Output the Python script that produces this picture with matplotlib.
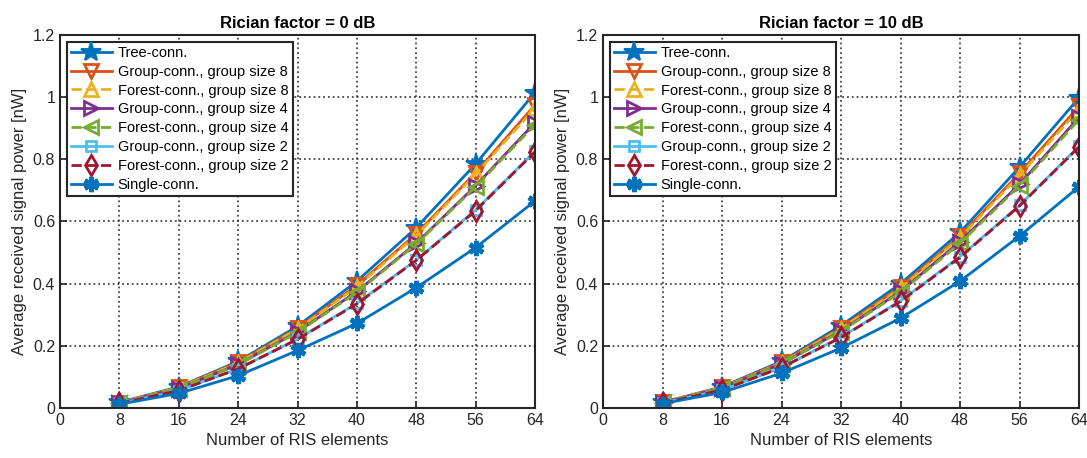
import numpy as np
import matplotlib.pyplot as plt

plt.rcParams['font.family'] = ['Liberation Sans', 'DejaVu Sans']

n_elements = [8, 16, 24, 32, 40, 48, 56, 64]
x_ticks = [0, 8, 16, 24, 32, 40, 48, 56, 64]

labels = ["Tree-conn.",
          "Group-conn., group size 8",
          "Forest-conn., group size 8",
          "Group-conn., group size 4",
          "Forest-conn., group size 4",
          "Group-conn., group size 2",
          "Forest-conn., group size 2",
          "Single-conn."]

# Rician factor = 0 dB
tree_0 = [0.018, 0.068, 0.150, 0.263, 0.408, 0.580, 0.785, 1.015]
group8_0 = [0.017, 0.066, 0.147, 0.256, 0.395, 0.560, 0.757, 0.975]
forest8_0 = [0.017, 0.065, 0.145, 0.254, 0.390, 0.555, 0.752, 0.965]
group4_0 = [0.016, 0.062, 0.140, 0.245, 0.375, 0.530, 0.715, 0.918]
forest4_0 = [0.016, 0.062, 0.139, 0.243, 0.372, 0.527, 0.712, 0.912]
group2_0 = [0.015, 0.056, 0.126, 0.222, 0.337, 0.476, 0.637, 0.826]
forest2_0 = [0.015, 0.056, 0.126, 0.221, 0.335, 0.475, 0.635, 0.824]
single_0 = [0.012, 0.047, 0.104, 0.185, 0.272, 0.387, 0.516, 0.666]

# Rician factor = 10 dB
tree_10 = [0.018, 0.068, 0.150, 0.265, 0.400, 0.565, 0.775, 0.998]
group8_10 = [0.018, 0.066, 0.147, 0.258, 0.390, 0.553, 0.755, 0.970]
forest8_10 = [0.018, 0.065, 0.145, 0.255, 0.385, 0.548, 0.748, 0.960]
group4_10 = [0.017, 0.063, 0.142, 0.248, 0.375, 0.535, 0.720, 0.935]
forest4_10 = [0.017, 0.063, 0.141, 0.246, 0.372, 0.530, 0.715, 0.928]
group2_10 = [0.016, 0.058, 0.130, 0.228, 0.345, 0.487, 0.652, 0.842]
forest2_10 = [0.016, 0.058, 0.130, 0.227, 0.343, 0.485, 0.650, 0.840]
single_10 = [0.014, 0.050, 0.112, 0.193, 0.289, 0.408, 0.553, 0.712]

colors = ['#0072BD', '#D95319', '#EDB120', '#7E2F8E',
          '#77AC30', '#4DBEEE', '#A2142F', '#0072BD']
markers = ['*', 'v', '^', '>', '<', 's', 'd', (6, 2, 0)]
styles = ['-', '-', '--', '-', '--', '-', '--', '-']
sizes = [15, 10, 10, 10, 10, 7, 10, 11]
edge_w = [1.5, 2, 2, 2, 2, 2, 2, 3.5]

panels = [("Rician factor = 0 dB",
           [tree_0, group8_0, forest8_0, group4_0, forest4_0, group2_0, forest2_0, single_0]),
          ("Rician factor = 10 dB",
           [tree_10, group8_10, forest8_10, group4_10, forest4_10, group2_10, forest2_10, single_10])]

fig = plt.figure(figsize=(10.87, 4.58), dpi=100)
axes = [fig.add_axes([60 / 1087, 50 / 458, 475 / 1087, 373 / 458]),
        fig.add_axes([603 / 1087, 50 / 458, 476 / 1087, 373 / 458])]

for ax, (title, series) in zip(axes, panels):
    for i, ys in enumerate(series):
        filled = i == 0 or i == 7
        ax.plot(n_elements, ys, linestyle=styles[i], color=colors[i], lw=2,
                marker=markers[i], markersize=sizes[i], markeredgewidth=edge_w[i],
                markerfacecolor=colors[i] if filled else 'none',
                markeredgecolor=colors[i], label=labels[i])
    ax.set_xlim(0, 64)
    ax.set_ylim(0, 1.2)
    ax.set_xticks(x_ticks)
    ax.set_yticks([0, 0.2, 0.4, 0.6, 0.8, 1.0, 1.2])
    ax.set_yticklabels(['0', '0.2', '0.4', '0.6', '0.8', '1', '1.2'])
    ax.grid(True, linestyle=':', color='#262626', lw=1.3, alpha=0.85)
    ax.tick_params(direction='in', labelsize=11.5, colors='#262626', length=5, width=1.2)
    for s in ax.spines.values():
        s.set_linewidth(1.5)
        s.set_color('#262626')
    ax.set_xlabel("Number of RIS elements", fontsize=12, color='#262626')
    ax.set_ylabel("Average received signal power [nW]", fontsize=12, color='#262626')
    ax.set_title(title, fontsize=12, fontweight='bold', pad=5)
    leg = ax.legend(loc='upper left', fontsize=10.5, handlelength=2.8,
                    borderpad=0.3, labelspacing=0.33, handletextpad=0.4,
                    fancybox=False, framealpha=1, borderaxespad=0.45)
    leg.get_frame().set_edgecolor('#262626')
    leg.get_frame().set_linewidth(1.5)

fig.savefig("out.png", dpi=100)
